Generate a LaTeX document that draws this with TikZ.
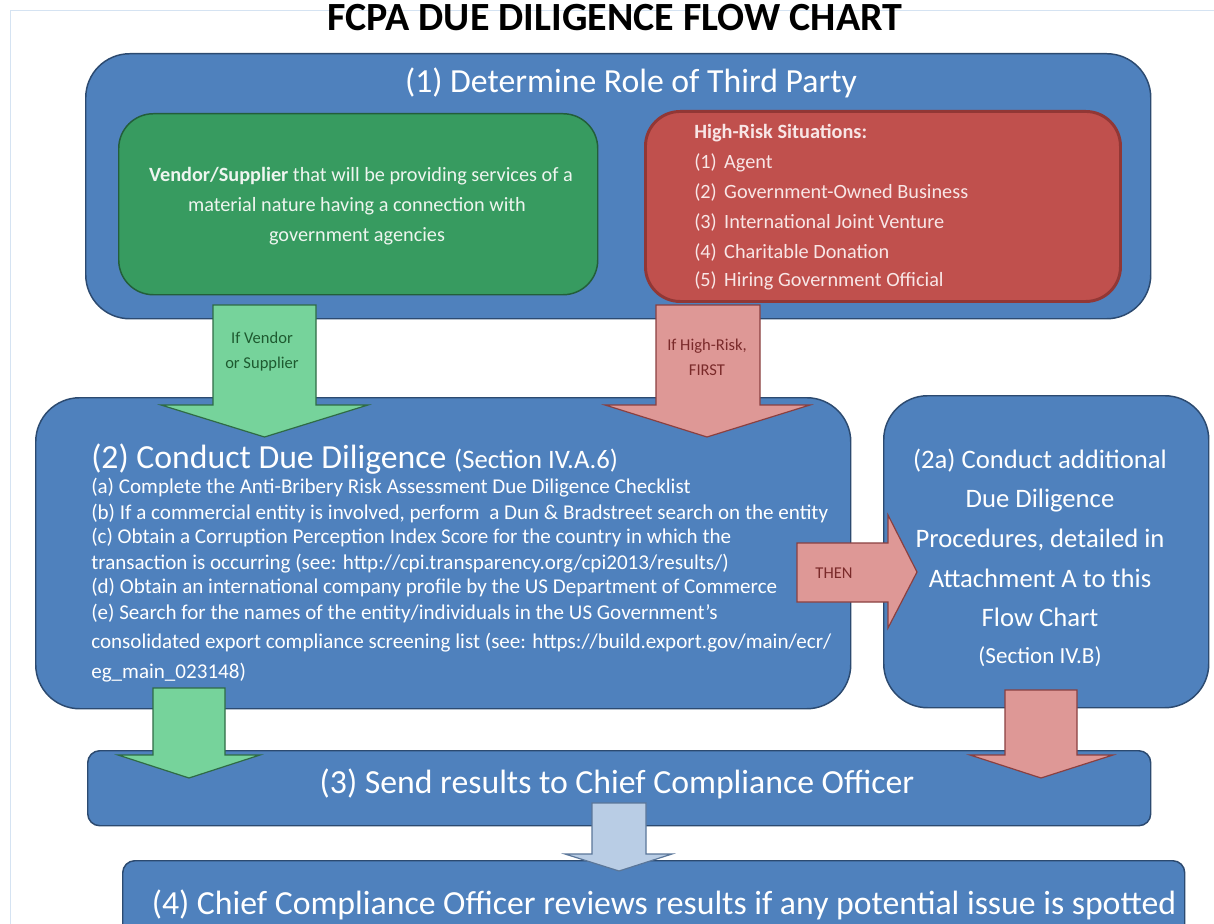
\documentclass[tikz,border=0pt]{standalone}
\usepackage{fontspec}
\setmainfont{Carlito}
\definecolor{boxblue}{HTML}{4F81BD}
\definecolor{boxedge}{HTML}{2C4A70}
\definecolor{grnfill}{HTML}{379B60}
\definecolor{grnedge}{HTML}{235E3A}
\definecolor{redfill}{HTML}{C0504D}
\definecolor{rededge}{HTML}{923735}
\definecolor{lgrn}{HTML}{76D39B}
\definecolor{lgrnedge}{HTML}{2F6B45}
\definecolor{lred}{HTML}{DE9896}
\definecolor{lrededge}{HTML}{8A4040}
\definecolor{lblue}{HTML}{B9CDE5}
\definecolor{lblueedge}{HTML}{5A7699}
\definecolor{framecol}{HTML}{D5E3F2}
\definecolor{grntext}{HTML}{1E5A30}
\definecolor{redtext}{HTML}{7A2A2A}
\definecolor{offwhite}{HTML}{EEF5EF}
\definecolor{pinkwhite}{HTML}{F8E6E6}
\newcommand\fsTitle{\fontsize{30pt}{36pt}\selectfont}
\newcommand\fsBig{\fontsize{25.3pt}{30pt}\selectfont}
\newcommand\fsMid{\fontsize{15.2pt}{18pt}\selectfont}
\newcommand\fsBody{\fontsize{15.8pt}{19pt}\selectfont}
\newcommand\fsTwoA{\fontsize{20pt}{24pt}\selectfont}
\newcommand\fsSecA{\fontsize{20pt}{24pt}\selectfont}
\newcommand\fsSecB{\fontsize{17.3pt}{21pt}\selectfont}
\newcommand\fsSmall{\fontsize{12.4pt}{15pt}\selectfont}
\begin{document}
\begin{tikzpicture}[x=0.75pt,y=-0.75pt,
  bigbox/.style={draw=boxedge, fill=boxblue, line width=1.1pt, anchor=north west, inner sep=0pt},
  grnbox/.style={draw=grnedge, fill=grnfill, line width=1.1pt, anchor=north west, inner sep=0pt, rounded corners=26pt},
  redbox/.style={draw=rededge, fill=redfill, line width=2.2pt, anchor=north west, inner sep=0pt, rounded corners=26pt},
  txt/.style={inner sep=0pt, text=white},
  garrow/.style={draw=lgrnedge, fill=lgrn, line width=0.9pt, line join=miter},
  rarrow/.style={draw=lrededge, fill=lred, line width=0.9pt, line join=miter},
  barrow/.style={draw=lblueedge, fill=lblue, line width=0.9pt, line join=miter}]
\clip (0,0) rectangle (1214,924);
\useasboundingbox (0,0) rectangle (1214,924);
\fill[white] (0,0) rectangle (1214,924);
\draw[framecol, line width=0.6pt] (10,940) -- (10,10) -- (1230,10);

% title
\node[inner sep=0pt, anchor=base, font=\fsTitle\bfseries, text=black] (title) at (615,31) {FCPA DUE DILIGENCE FLOW CHART};

% step 1
\node[bigbox, rounded corners=33pt, minimum width=798.75pt, minimum height=198.75pt] (b1) at (85,53) {};
\node[txt, anchor=base, font=\fsBig] (t1) at (631,93) {(1) Determine Role of Third Party};
\node[grnbox, minimum width=359.25pt, minimum height=135.75pt] (gbox) at (118,113) {};
\node[txt, anchor=base, font=\fsMid, text=offwhite] (g1) at (361,181) {\textbf{Vendor/Supplier} that will be providing services of a};
\node[txt, anchor=base, font=\fsMid, text=offwhite] (g2) at (357,211) {material nature having a connection with};
\node[txt, anchor=base, font=\fsMid, text=offwhite] (g3) at (357,241) {government agencies};
\node[redbox, minimum width=356.25pt, minimum height=142.5pt] (rbox) at (644,110) {};
\node[txt, anchor=base west, font=\fsMid\bfseries, text=pinkwhite] (r0) at (694,138) {High-Risk Situations:};
\node[txt, anchor=base west, font=\fsMid, text=pinkwhite] (r1) at (694,168) {\makebox[22.5pt][l]{(1)}Agent};
\node[txt, anchor=base west, font=\fsMid, text=pinkwhite] (r2) at (694,198) {\makebox[22.5pt][l]{(2)}Government-Owned Business};
\node[txt, anchor=base west, font=\fsMid, text=pinkwhite] (r3) at (694,228) {\makebox[22.5pt][l]{(3)}International Joint Venture};
\node[txt, anchor=base west, font=\fsMid, text=pinkwhite] (r4) at (694,258) {\makebox[22.5pt][l]{(4)}Charitable Donation};
\node[txt, anchor=base west, font=\fsMid, text=pinkwhite] (r5) at (694,286) {\makebox[22.5pt][l]{(5)}Hiring Government Official};

% step 2
\node[bigbox, rounded corners=33pt, minimum width=611.25pt, minimum height=233.25pt] (b2) at (35,397) {};
\node[bigbox, rounded corners=33pt, minimum width=243.75pt, minimum height=234pt] (b2a) at (883,395) {};
\node[txt, anchor=base west] (t2) at (91,468) {\fsBig (2) Conduct Due Diligence {\fsSecA (Section IV.A.6)}};
\node[txt, anchor=base west, font=\fsBody] (l1) at (91,493) {(a) Complete the Anti-Bribery Risk Assessment Due Diligence Checklist};
\node[txt, anchor=base west, font=\fsBody] (l2) at (91,519) {(b) If a commercial entity is involved, perform\ \ a Dun \& Bradstreet search on the entity};
\node[txt, anchor=base west, font=\fsBody] (l3) at (91,543) {(c) Obtain a Corruption Perception Index Score for the country in which the};
\node[txt, anchor=base west, font=\fsBody] (l4) at (91,569) {transaction is occurring (see: http://cpi.transparency.org/cpi2013/results/)};
\node[txt, anchor=base west, font=\fsBody] (l5) at (91,593) {(d) Obtain an international company profile by the US Department of Commerce};
\node[txt, anchor=base west, font=\fsBody] (l6) at (91,619) {(e) Search for the names of the entity/individuals in the US Government’s};
\node[txt, anchor=base west, font=\fsBody] (l7) at (91,648) {consolidated export compliance screening list (see: https://build.export.gov/main/ecr/};
\node[txt, anchor=base west, font=\fsBody] (l8) at (91,678) {eg\_main\_023148)};

\node[txt, anchor=base, font=\fsTwoA] (a1) at (1040,468) {(2a) Conduct additional};
\node[txt, anchor=base, font=\fsTwoA] (a2) at (1040,507) {Due Diligence};
\node[txt, anchor=base, font=\fsTwoA] (a3) at (1040,547) {Procedures, detailed in};
\node[txt, anchor=base, font=\fsTwoA] (a4) at (1040,587) {Attachment A to this};
\node[txt, anchor=base, font=\fsTwoA] (a5) at (1040,626) {Flow Chart};
\node[txt, anchor=base, font=\fsSecB] (a6) at (1040,663) {(Section IV.B)};

% step 3 and 4
\node[bigbox, rounded corners=9pt, minimum width=797.25pt, minimum height=56.25pt] (b3) at (87,750) {};
\node[txt, anchor=base, font=\fsBig] (t3) at (617,793) {(3) Send results to Chief Compliance Officer};
\node[bigbox, rounded corners=9pt, minimum width=796.5pt, minimum height=75pt] (b4) at (122,860) {};
\node[txt, anchor=base, font=\fsBig] (t4) at (664,914) {(4) Chief Compliance Officer reviews results if any potential issue is spotted};

% block arrows
\draw[garrow] (213,305) -- (316,305) -- (316,405) -- (368,405) -- (264.5,437) -- (161,405) -- (213,405) -- cycle;
\node[inner sep=0pt, anchor=base, font=\fsSmall, text=grntext] (ga1) at (262,343) {If Vendor};
\node[inner sep=0pt, anchor=base, font=\fsSmall, text=grntext] (ga2) at (262,368) {or Supplier};
\draw[rarrow] (656,305) -- (760,305) -- (760,405) -- (810,405) -- (707,437) -- (605,405) -- (656,405) -- cycle;
\node[inner sep=0pt, anchor=base, font=\fsSmall, text=redtext] (ra1) at (707,350) {If High-Risk,};
\node[inner sep=0pt, anchor=base, font=\fsSmall, text=redtext] (ra2) at (707,375) {FIRST};
\draw[rarrow] (797,543) -- (888,543) -- (888,515) -- (917,572) -- (888,628) -- (888,602) -- (797,602) -- cycle;
\node[inner sep=0pt, anchor=base, font=\fsSmall, text=redtext] (then) at (834,578) {THEN};
\draw[garrow] (153,688) -- (225,688) -- (225,755) -- (260,755) -- (189,778) -- (118,755) -- (153,755) -- cycle;
\draw[rarrow] (1005,690) -- (1077,690) -- (1077,755) -- (1113,755) -- (1041,778) -- (970,755) -- (1005,755) -- cycle;
\draw[barrow] (592,803) -- (646,803) -- (646,854) -- (672,854) -- (619,871) -- (565,854) -- (592,854) -- cycle;
\end{tikzpicture}
\end{document}
